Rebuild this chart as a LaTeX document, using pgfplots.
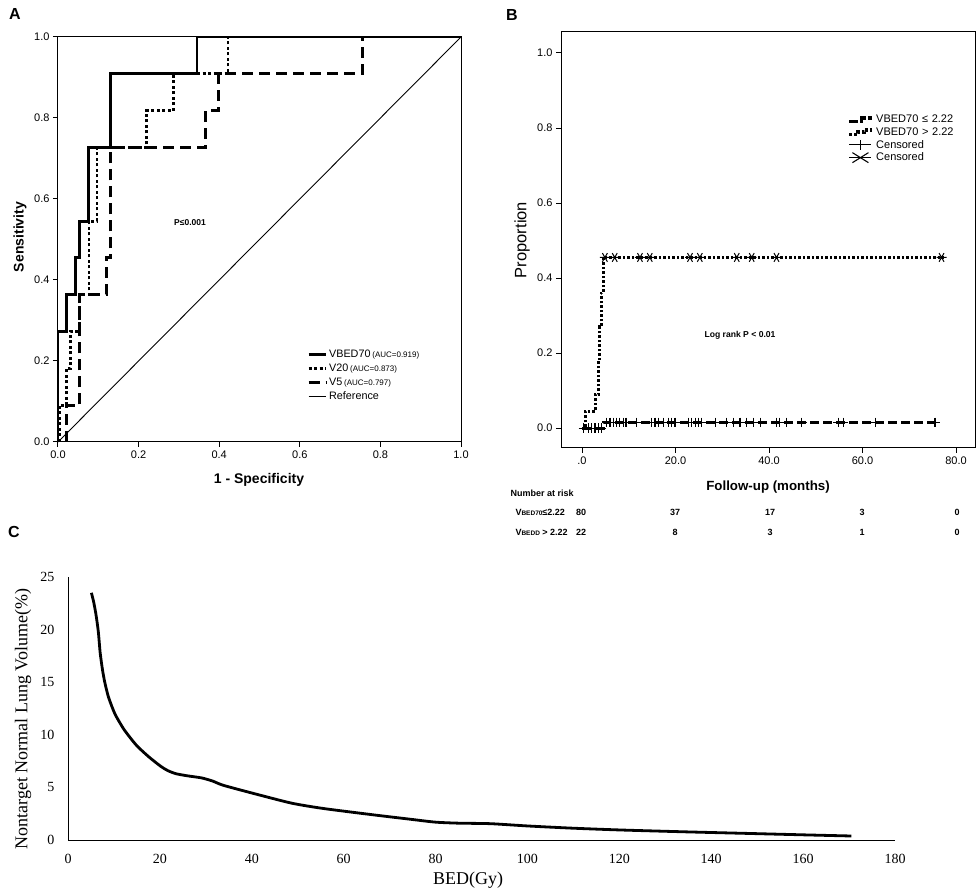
\documentclass[border=0pt]{standalone}
\usepackage{fontspec}
\setmainfont{Liberation Sans}
\newfontfamily\timesfont{Liberation Serif}
\usepackage{pgfplots}
\pgfplotsset{compat=1.18}
\pgfplotsset{
  steplegA/.style={legend image code/.code={\draw[##1] (0pt,-2pt) -- (12pt,-2pt) -- (12pt,1.5pt) -- (23pt,1.5pt);}},
  steplegB/.style={legend image code/.code={\draw[##1] (0pt,-2.5pt) -- (8pt,-2.5pt) -- (8pt,0pt) -- (15pt,0pt) -- (15pt,2pt) -- (23pt,2pt);}},
  censlegA/.style={legend image code/.code={\draw[line width=1.2pt] (0pt,0pt) -- (22pt,0pt); \draw[line width=1.2pt] (11pt,-5pt) -- (11pt,5pt);}},
  censlegB/.style={legend image code/.code={\draw[line width=1.1pt] (0pt,0pt) -- (22pt,0pt); \draw[line width=1.1pt] (3pt,-5pt) -- (19pt,5pt); \draw[line width=1.1pt] (3pt,5pt) -- (19pt,-5pt);}},
}
\newcommand{\fs}[1]{\fontsize{#1}{#1}\selectfont}
\begin{document}
\begin{tikzpicture}
\path[use as bounding box] (0,0) rectangle (976pt,888pt);

%================ Panel A =================
\begin{axis}[
  at={(58pt,446pt)}, anchor=south west, scale only axis,
  width=403pt, height=405pt,
  xmin=0, xmax=1, ymin=0, ymax=1,
  xtick={0,0.2,0.4,0.6,0.8,1}, ytick={0,0.2,0.4,0.6,0.8,1},
  xticklabels={0.0,0.2,0.4,0.6,0.8,1.0},
  yticklabels={0.0,0.2,0.4,0.6,0.8,1.0},
  tick align=outside, tick pos=left, major tick length=5pt,
  tick style={line width=1pt, black},
  axis line style={line width=1pt},
  ticklabel style={font=\fs{11}},
  clip=false,
  legend cell align=left,
  legend style={draw=none, fill=none, at={(0.618,0.232)}, anchor=north west,
    font=\fs{10.8}, row sep=0.8pt, inner sep=0pt},
]
\addplot[line width=2.8pt, line join=miter] coordinates {
 (0,0)(0,0.273)(0.021,0.273)(0.021,0.364)(0.043,0.364)(0.043,0.455)
 (0.054,0.455)(0.054,0.545)(0.075,0.545)(0.075,0.727)(0.13,0.727)
 (0.13,0.909)(0.345,0.909)(0.345,1)(1,1)};
\addlegendentry{VBED70\,{\fs{8}(AUC=0.919)}}
\addplot[line width=2.8pt, dash pattern=on 3pt off 2.5pt, line join=miter] coordinates {
 (0.003,0)(0.003,0.0909)(0.021,0.0909)(0.021,0.182)(0.031,0.182)(0.031,0.273)
 (0.054,0.273)(0.054,0.364)(0.077,0.364)(0.077,0.545)(0.097,0.545)
 (0.097,0.727)(0.22,0.727)(0.22,0.818)(0.286,0.818)(0.286,0.909)
 (0.422,0.909)(0.422,1)(1,1)};
\addlegendentry{V20\,{\fs{8}(AUC=0.873)}}
\addplot[line width=2.8pt, dash pattern=on 11pt off 6pt, line join=miter] coordinates {
 (0.021,0)(0.021,0.0909)(0.054,0.0909)(0.054,0.364)(0.12,0.364)(0.12,0.455)
 (0.131,0.455)(0.131,0.727)(0.366,0.727)(0.366,0.818)(0.398,0.818)
 (0.398,0.909)(0.755,0.909)(0.755,1)(1,1)};
\addlegendentry{V5\,{\fs{8}(AUC=0.797)}}
\addplot[line width=0.9pt] coordinates {(0,0)(1,1)};
\addlegendentry{Reference}
\end{axis}

%================ Panel B =================
\begin{axis}[
  at={(561pt,440pt)}, anchor=south west, scale only axis,
  width=414pt, height=416pt,
  xmin=-4.49, xmax=84.06, ymin=-0.053, ymax=1.056,
  xtick={0,20,40,60,80}, xticklabels={.0,20.0,40.0,60.0,80.0},
  ytick={0,0.2,0.4,0.6,0.8,1},
  yticklabels={0.0,0.2,0.4,0.6,0.8,1.0},
  tick align=outside, tick pos=left, major tick length=5pt,
  tick style={line width=1pt, black},
  axis line style={line width=1pt},
  ticklabel style={font=\fs{11}},
  legend cell align=left,
  legend style={draw=none, fill=none, at={(0.692,0.806)}, anchor=north west,
    font=\fs{11}, row sep=-0.6pt, inner sep=0pt,
    /tikz/every even column/.append style={column sep=1pt}},
]
\addlegendimage{steplegA, line width=3.5pt, dash pattern=on 9pt off 2pt}
\addlegendentry{VBED70\,\,\char"2264\,\,2.22}
\addlegendimage{steplegB, line width=3.5pt, dash pattern=on 3pt off 2pt}
\addlegendentry{VBED70\,\,>\,\,2.22}
\addlegendimage{censlegA}
\addlegendentry{Censored}
\addlegendimage{censlegB}
\addlegendentry{Censored}

% VBED70 <= 2.22
\addplot[line width=3pt, dash pattern=on 9pt off 4pt, forget plot] coordinates {
 (0,0)(4.5,0)(4.5,0.015)(76,0.015)};
\addplot[only marks, mark=+, mark size=4.8pt, line width=1.2pt, forget plot] coordinates {
 (0.3,0)(1.35,0)(2.06,0)(2.8,0)(3.5,0)(4.2,0)};
\addplot[only marks, mark=+, mark size=4.8pt, line width=1.2pt, forget plot] coordinates {
 (5.3,0.015)(6.0,0.015)(6.7,0.015)(7.4,0.015)(8.1,0.015)(8.8,0.015)(9.4,0.015)
 (11.6,0.015)(14.8,0.015)(15.6,0.015)(16.3,0.015)(17.4,0.015)(18.5,0.015)
 (19.2,0.015)(19.9,0.015)(22.7,0.015)(23.5,0.015)(24.2,0.015)(24.9,0.015)
 (25.6,0.015)(28.5,0.015)(30.9,0.015)(32.4,0.015)(33.8,0.015)(35.2,0.015)
 (36.6,0.015)(38.1,0.015)(41.6,0.015)(42.3,0.015)(43.8,0.015)(47.0,0.015)
 (54.8,0.015)(55.9,0.015)(62.7,0.015)(75.5,0.015)};
% VBED70 > 2.22
\addplot[line width=3pt, dash pattern=on 2.5pt off 2pt, line join=miter, forget plot] coordinates {
 (0,0)(0.7,0)(0.7,0.045)(2.8,0.045)(2.8,0.09)(3.6,0.09)(3.6,0.18)(3.8,0.18)
 (3.8,0.27)(4.1,0.27)(4.1,0.36)(4.5,0.36)(4.5,0.455)(77.5,0.455)};
\addplot[only marks, mark=asterisk, mark size=5pt, line width=1pt,
  mark options={rotate=90}, forget plot] coordinates {
 (4.9,0.455)(7.0,0.455)(12.4,0.455)(14.5,0.455)(23.1,0.455)(25.2,0.455)
 (33.1,0.455)(36.3,0.455)(41.6,0.455)(76.9,0.455)};
\end{axis}

%================ Panel C =================
\begin{axis}[
  at={(68pt,48pt)}, anchor=south west, scale only axis,
  width=827pt, height=263pt,
  xmin=0, xmax=180, ymin=0, ymax=25,
  axis x line=bottom, axis y line=left,
  axis line style={-, line width=1pt},
  xtick={0,20,...,180}, ytick={0,5,...,25},
  major tick length=0pt,
  /pgf/number format/assume math mode=true,
  ticklabel style={font=\timesfont\fs{14}},
  xticklabel style={yshift=-11pt},
  yticklabel style={xshift=-10pt},
  clip=false,
]
\addplot[line width=2.8pt, smooth, tension=0.4] coordinates {
 (5.1,23.5)(5.6,22.6)(6.1,21.4)(6.6,19.8)(7.0,17.8)(7.5,16.2)(8.0,15.0)
 (8.8,13.6)(10.2,12.0)(12.2,10.5)(14.9,9.0)(17.6,7.9)(20.2,7.0)(21.7,6.6)
 (23.5,6.3)(26,6.1)(29.1,5.9)(31.5,5.6)(33.8,5.2)(40.6,4.4)(48.7,3.5)
 (55.5,3.0)(66.3,2.4)(74,2.0)(79.9,1.7)(85,1.6)(92,1.55)(100.2,1.33)
 (110,1.12)(120.4,0.95)(134,0.78)(147.5,0.63)(161,0.48)(170.5,0.38)};
\end{axis}

%================ Labels =================
\node[font=\bfseries\fs{16}] at (15pt,874pt) {A};
\node[font=\bfseries\fs{16}] at (512pt,873pt) {B};
\node[font=\bfseries\fs{16}] at (14pt,356pt) {C};

\node[font=\bfseries\fs{14}, rotate=90] at (20pt,651pt) {Sensitivity};
\node[font=\bfseries\fs{14}] at (259pt,408pt) {1 - Specificity};
\node[font=\bfseries\fs{8.5}] at (190pt,665pt) {P\char"2264 0.001};

\node[font=\fs{16.5}, rotate=90] at (522pt,648pt) {Proportion};
\node[font=\bfseries\fs{13.3}] at (768pt,401pt) {Follow-up (months)};
\node[font=\bfseries\fs{8.6}] at (740pt,553pt) {Log rank P < 0.01};

\node[font=\bfseries\fs{9}, anchor=west] at (507pt,395pt) {Number at risk};
\node[font=\bfseries\fs{9}, anchor=west] at (512pt,376pt) {V{\fs{6.5}BED70}\char"2264 2.22};
\node[font=\bfseries\fs{9}, anchor=west] at (512pt,356pt) {V{\fs{6.5}BEDD} > 2.22};
\foreach \x/\a/\b in {581/80/22, 675/37/8, 770/17/3, 862/3/1, 957/0/0} {
  \node[font=\bfseries\fs{9}] at (\x pt,376pt) {\a};
  \node[font=\bfseries\fs{9}] at (\x pt,356pt) {\b};
}

\node[font=\timesfont\fs{18}, rotate=90] at (23pt,169pt) {Nontarget Normal Lung Volume(\%)};
\node[font=\timesfont\fs{18}] at (468pt,8pt) {BED(Gy)};
\end{tikzpicture}
\end{document}
